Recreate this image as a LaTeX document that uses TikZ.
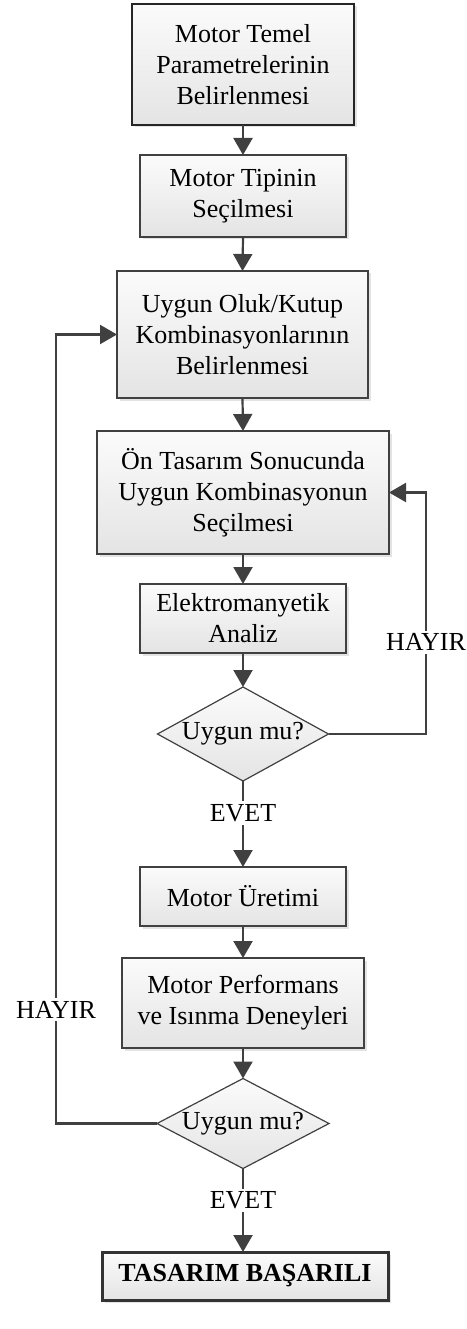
\documentclass[tikz,border=0pt]{standalone}
\usepackage{fontspec}
\setmainfont{Liberation Serif}
\usetikzlibrary{arrows.meta,shapes.geometric,shadows}
\definecolor{lc}{HTML}{404040}
\definecolor{topc}{HTML}{FBFBFB}
\definecolor{botc}{HTML}{E4E4E4}
\begin{document}
\begin{tikzpicture}[x=1pt,y=-1pt,
  every node/.style={font=\fontsize{26}{31}\selectfont, align=center},
  procbox/.style={draw=lc, line width=1.2pt, rectangle, top color=topc, bottom color=botc,
    inner sep=0pt, outer sep=0pt,
    drop shadow={shadow xshift=2.5pt, shadow yshift=-2.5pt, opacity=0.22}},
  decbox/.style={draw=lc, line width=1.2pt, diamond, aspect=1.9, top color=topc, bottom color=botc,
    inner sep=0pt, outer sep=0pt},
  flow/.style={draw=lc, line width=2.2pt, -{Triangle[width=19pt,length=17pt]}},
  lbl/.style={fill=white, inner sep=3pt}
]
\useasboundingbox (0,0) rectangle (466,1329);

\node[procbox, line width=2pt, draw=black!85, minimum width=222pt, minimum height=121pt] (b1) at (243,64.5)
  {Motor Temel\\Parametrelerinin\\Belirlenmesi};
\node[procbox, minimum width=206pt, minimum height=82pt] (b2) at (243,196)
  {Motor Tipinin\\Seçilmesi};
\node[procbox, minimum width=251pt, minimum height=127pt] (b3) at (242.5,334.5)
  {Uygun Oluk/Kutup\\Kombinasyonlarının\\Belirlenmesi};
\node[procbox, minimum width=292pt, minimum height=123pt] (b4) at (243,492.5)
  {Ön Tasarım Sonucunda\\Uygun Kombinasyonun\\Seçilmesi};
\node[procbox, minimum width=206pt, minimum height=69pt] (b5) at (243,618.5)
  {Elektromanyetik\\Analiz};
\node[decbox, minimum width=171pt, minimum height=94pt] (d1) at (243,734)
  {Uygun mu?};
\node[procbox, minimum width=206pt, minimum height=59pt] (b6) at (243,896.5)
  {Motor Üretimi};
\node[procbox, minimum width=242pt, minimum height=90pt] (b7) at (243,1003)
  {Motor Performans\\ve Isınma Deneyleri};
\node[decbox, minimum width=172pt, minimum height=90pt] (d2) at (243,1123.5)
  {Uygun mu?};
\node[procbox, line width=3pt, draw=black!80, minimum width=286pt, minimum height=48pt,
  font=\fontsize{26}{31}\selectfont\bfseries] (b8) at (245,1276)
  {TASARIM BAŞARILI};

\coordinate (r1) at (426,734);
\coordinate (r2) at (r1 |- b4.east);
\coordinate (l1) at (56,1123.5);
\coordinate (l2) at (l1 |- b3.west);
\coordinate (e2) at (d2.south |- b8.north);

\draw[flow] (b1.south) -- (b2.north);
\draw[flow] (b2.south) -- (b3.north);
\draw[flow] (b3.south) -- (b4.north);
\draw[flow] (b4.south) -- (b5.north);
\draw[flow] (b5.south) -- (d1.north);
\draw[flow] (d1.south) -- node[lbl, pos=0.37] (evet1) {EVET} (b6.north);
\draw[flow] (b6.south) -- (b7.north);
\draw[flow] (b7.south) -- (d2.north);
\draw[flow] (d2.south) -- node[lbl, pos=0.38] (evet2) {EVET} (e2);
\draw[flow] (d1.east) -- (r1) -- node[lbl, pos=0.38] (hayir1) {HAYIR} (r2) -- (b4.east);
\draw[flow] (d2.west) -- (l1) -- node[lbl, pos=0.144] (hayir2) {HAYIR} (l2) -- (b3.west);
\end{tikzpicture}
\end{document}
